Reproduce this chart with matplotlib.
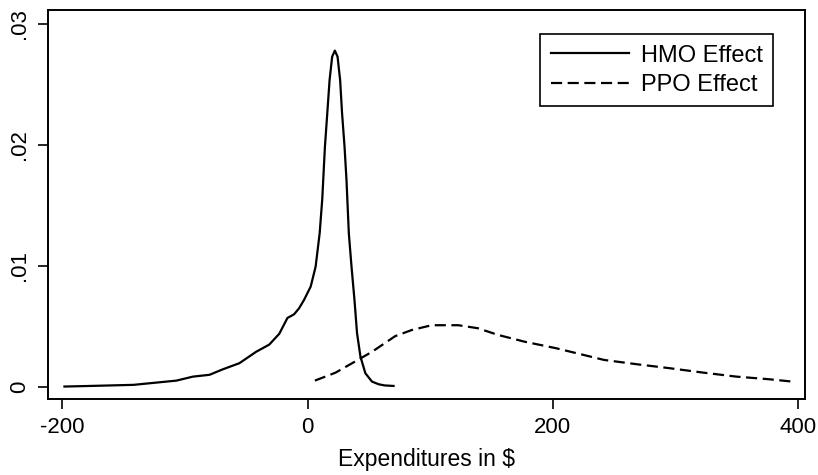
import matplotlib
matplotlib.use("Agg")
import matplotlib.pyplot as plt
from matplotlib.ticker import FixedLocator, FixedFormatter

plt.rcParams['font.family'] = ['Liberation Sans', 'DejaVu Sans']

# density of the HMO effect
hmo_x = [-198.4, -177, -142, -123, -107, -93.5, -80, -69, -55.6, -42, -31.2,
         -23, -16.4, -11, -6.9, -2.8, 2.6, 6.6, 9.9, 12, 14.2, 16.1, 18, 20.1,
         22.3, 24.5, 26.6, 28.2, 30.2, 31.8, 33.7, 35.9, 38.3, 40.4, 43.2,
         47.2, 52.6, 58, 63, 70.2]
hmo_y = [0.00003, 0.00008, 0.00017, 0.00036, 0.00052, 0.00085, 0.001,
         0.00146, 0.00196, 0.0029, 0.0035, 0.0044, 0.0057, 0.006, 0.0065,
         0.0072, 0.0083, 0.00994, 0.0127, 0.0155, 0.01986, 0.0226, 0.02537,
         0.0273, 0.0278, 0.0273, 0.02537, 0.0226, 0.01986, 0.0171, 0.0127,
         0.00994, 0.0072, 0.00444, 0.0025, 0.00113, 0.00044, 0.00022,
         0.00012, 0.00008]

# density of the PPO effect
ppo_x = [6, 22.9, 36.4, 52.6, 71.6, 85, 101.3, 123, 139, 155.4, 177, 202.7,
         214.9, 242, 269, 296, 323, 350, 377, 395.5]
ppo_y = [0.00052, 0.00118, 0.00196, 0.0029, 0.0042, 0.0047, 0.0051, 0.0051,
         0.00485, 0.0043, 0.00374, 0.0032, 0.0029, 0.00223, 0.00187, 0.00154,
         0.00118, 0.00085, 0.00063, 0.00044]

x_ticks = [-200, 0, 200, 400]
x_labels = ["-200", "0", "200", "400"]
y_ticks = [0, 0.01, 0.02, 0.03]
y_labels = ["0", ".01", ".02", ".03"]

fig = plt.figure(figsize=(8.18, 4.75), dpi=100)
ax = fig.add_axes([0.0587, 0.16, 0.9254, 0.819])

ax.plot(hmo_x, hmo_y, color="black", lw=1.6, label="HMO Effect",
        solid_joinstyle="round")
ax.plot(ppo_x, ppo_y, color="black", lw=1.6, linestyle=(0, (5, 2.5)),
        label="PPO Effect")

ax.set_xlim(-211.8, 406)
ax.set_ylim(-0.001, 0.03116)

ax.xaxis.set_major_locator(FixedLocator(x_ticks))
ax.xaxis.set_major_formatter(FixedFormatter(x_labels))
ax.yaxis.set_major_locator(FixedLocator(y_ticks))
ax.yaxis.set_major_formatter(FixedFormatter(y_labels))

ax.tick_params(axis="both", direction="out", length=7, width=1.2,
               labelsize=16, pad=6)
for lab in ax.get_yticklabels():
    lab.set_rotation(90)
    lab.set_va("center")

for sp in ax.spines.values():
    sp.set_linewidth(1.4)

ax.set_xlabel("Expenditures in $", fontsize=16.5, labelpad=7)

leg = ax.legend(loc="upper right", bbox_to_anchor=(0.958, 0.938), fontsize=17,
                frameon=True, fancybox=False, edgecolor="black", framealpha=1,
                handlelength=3.3, handletextpad=0.5, borderpad=0.45,
                labelspacing=0.3, borderaxespad=0)
leg.get_frame().set_linewidth(1.2)

fig.savefig("out.png", dpi=100)
